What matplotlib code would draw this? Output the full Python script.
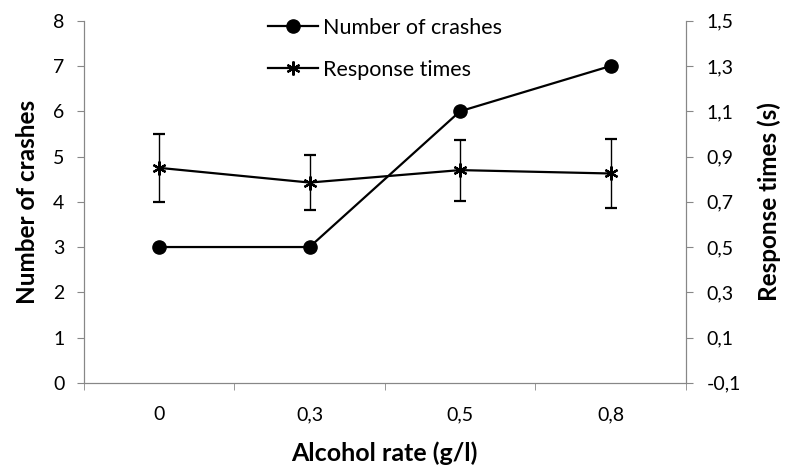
import matplotlib
matplotlib.use("Agg")
import matplotlib.pyplot as plt
import numpy as np

plt.rcParams['font.family'] = ['Lato', 'DejaVu Sans']

alcohol = ["0", "0,3", "0,5", "0,8"]
crashes = [3, 3, 6, 7]
resp_times = [0.85, 0.785, 0.84, 0.825]
resp_err = [0.15, 0.122, 0.135, 0.152]

GRAY = '#878787'
STAR = (6, 2, 0)

fig = plt.figure(figsize=(7.91, 4.72), dpi=100)
ax = fig.add_axes([0.106, 0.189, 0.761, 0.767])
ax2 = ax.twinx()

x = np.arange(len(alcohol))

l1, = ax.plot(x, crashes, color='black', marker='o', markersize=9.5, lw=1.6,
              label='Number of crashes', zorder=3)
ax2.errorbar(x, resp_times, yerr=resp_err, color='black', marker=STAR,
             markersize=10, markeredgewidth=1.6, lw=1.6, elinewidth=1,
             capsize=4, capthick=1)
l2, = ax2.plot([], [], color='black', marker=STAR, markersize=10,
               markeredgewidth=1.6, lw=1.6, label='Response times')

ax.set_xlim(-0.5, 3.5)
ax.set_ylim(0, 8)
ax2.set_ylim(-0.1, 1.5)

ax.set_yticks(range(0, 9))
rt_ticks = np.arange(-0.1, 1.51, 0.2)
ax2.set_yticks(rt_ticks)
ax2.set_yticklabels([f"{v:.1f}".replace('.', ',') for v in rt_ticks])

ax.set_xticks(x)
ax.set_xticklabels(alcohol)
ax.set_xticks(np.arange(-0.5, 3.6, 1), minor=True)
ax.tick_params(axis='x', which='major', length=0, pad=17, labelsize=14)
ax.tick_params(axis='x', which='minor', length=5, color=GRAY, direction='out')
ax.tick_params(axis='y', length=5, color=GRAY, labelsize=14, direction='out', pad=9)
ax2.tick_params(axis='y', length=5, color=GRAY, labelsize=14, direction='out', pad=10)

for a in (ax, ax2):
    a.spines['top'].set_visible(False)
    for s in ('left', 'right', 'bottom'):
        a.spines[s].set_color(GRAY)

ax.set_xlabel('Alcohol rate (g/l)', fontsize=18, fontweight='bold', labelpad=13)
ax.set_ylabel('Number of crashes', fontsize=17.5, fontweight='bold', labelpad=10)
ax2.set_ylabel('Response times (s)', fontsize=17.5, fontweight='bold', labelpad=12)

ax.legend(handles=[l1, l2], loc='upper left', bbox_to_anchor=(0.306, 1.009),
          borderaxespad=0, borderpad=0, frameon=False, fontsize=15.5,
          handlelength=2.3, handletextpad=0.25, labelspacing=1.03)

fig.savefig('out.png', dpi=100)
